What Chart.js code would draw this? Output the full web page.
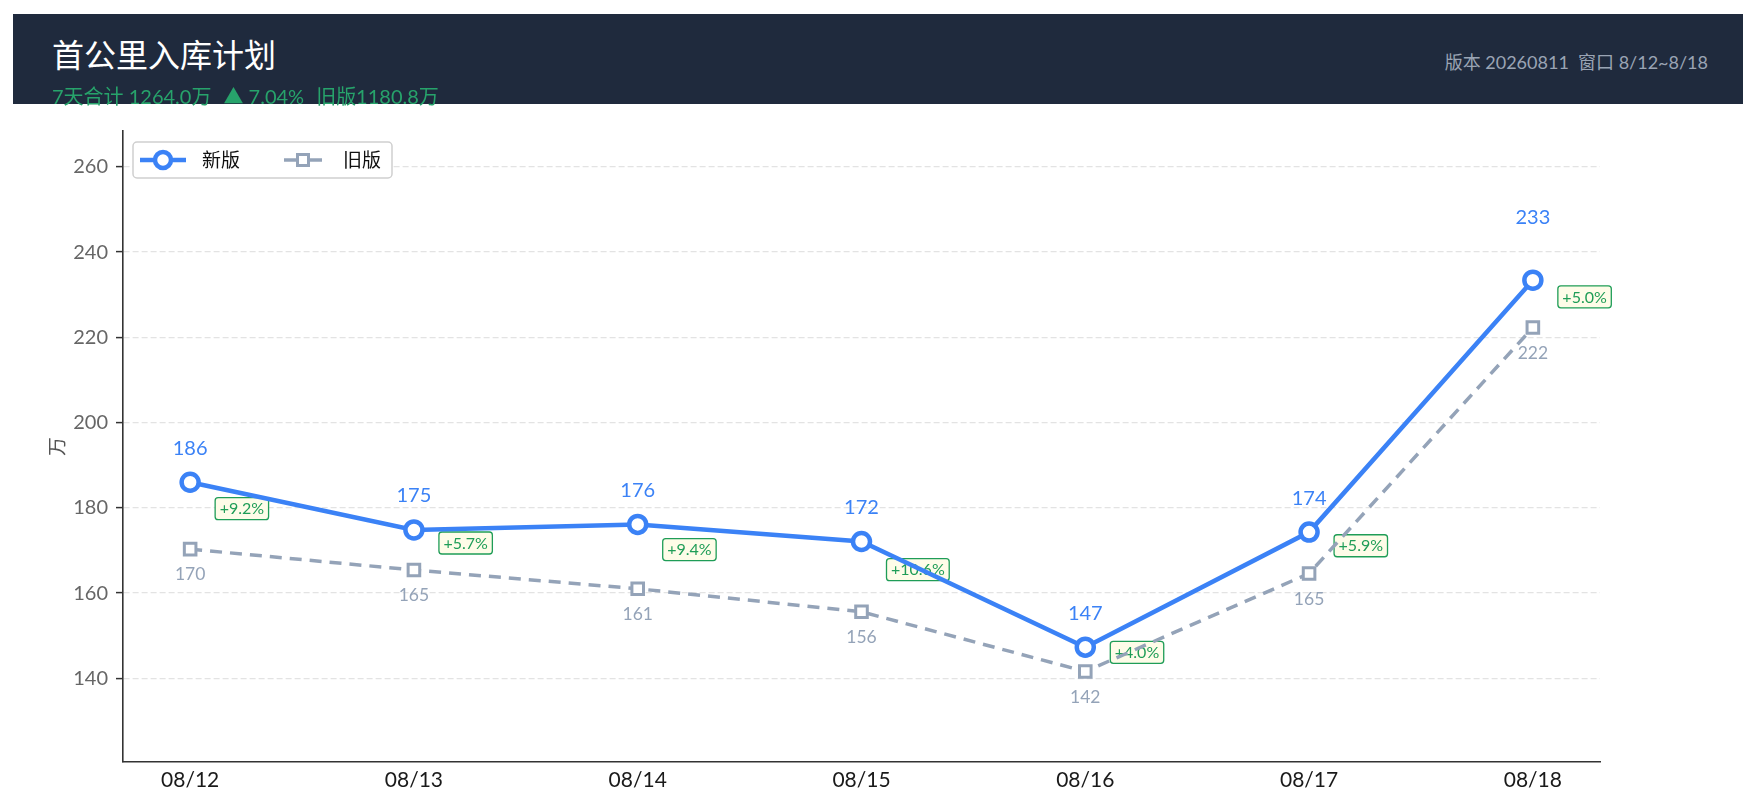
<!DOCTYPE html>
<html>
<head>
<meta charset="utf-8">
<script src="https://cdn.jsdelivr.net/npm/chart.js@4.4.1/dist/chart.umd.min.js"></script>
<style>
html,body{margin:0;padding:0;background:#fff;}
#wrap{position:relative;width:1758px;height:812px;overflow:hidden;background:#fff;}
#chart{position:absolute;left:0;top:0;}
#hdr{position:absolute;left:13px;top:14px;width:1730px;height:90px;background:#1f2a3d;font-family:Lato,"Noto Sans CJK SC",sans-serif;}
#title{position:absolute;left:39px;top:25px;font-size:32px;line-height:32px;color:#ffffff;white-space:nowrap;}
#sub{position:absolute;left:39px;top:72px;font-size:20px;line-height:20px;color:#27a36b;white-space:nowrap;}
#sub span+span{margin-left:12px;}
#meta{position:absolute;right:35px;top:39px;font-size:18px;line-height:18px;color:#9aa4b4;white-space:nowrap;}
</style>
</head>
<body>
<div id="wrap">
  <canvas id="chart" width="1758" height="812"></canvas>
  <div id="hdr">
    <div id="title">首公里入库计划</div>
    <div id="sub"><span>7天合计 1264.0万</span><span>▲ 7.04%</span><span>旧版1180.8万</span></div>
    <div id="meta">版本 20260811&nbsp;&nbsp;窗口 8/12~8/18</div>
  </div>
</div>
<script>
const labels = ['08/12','08/13','08/14','08/15','08/16','08/17','08/18'];
const newValues = [186.0,174.8,176.1,172.1,147.3,174.3,233.4];
const oldValues = [170.3,165.4,161.0,155.6,141.6,164.6,222.3];
const yTicks = [140,160,180,200,220,240,260];
const seriesNames = ['新版','旧版'];

const BLUE = '#3b82f6';
const GRAY = '#94a3b8';
const GREEN = '#1f9d57';
const FONT = 'Lato, "Noto Sans CJK SC", sans-serif';

const allVals = newValues.concat(oldValues);
const yMin = Math.min(...allVals) * 0.85;
const yMax = Math.max(...allVals) * 1.15;
const maxNew = Math.max(...newValues);

function rrect(ctx, x, y, w, h, r) {
  ctx.beginPath();
  ctx.moveTo(x + r, y);
  ctx.lineTo(x + w - r, y);
  ctx.arcTo(x + w, y, x + w, y + r, r);
  ctx.lineTo(x + w, y + h - r);
  ctx.arcTo(x + w, y + h, x + w - r, y + h, r);
  ctx.lineTo(x + r, y + h);
  ctx.arcTo(x, y + h, x, y + h - r, r);
  ctx.lineTo(x, y + r);
  ctx.arcTo(x, y, x + r, y, r);
  ctx.closePath();
}

const badgePlugin = {
  id: 'badges',
  beforeDatasetsDraw(chart) {
    const ctx = chart.ctx;
    const xs = chart.scales.x, ys = chart.scales.y;
    ctx.save();
    ctx.font = '16px ' + FONT;
    ctx.textBaseline = 'middle';
    ctx.textAlign = 'left';
    newValues.forEach((v, i) => {
      const o = oldValues[i];
      const txt = '+' + ((v / o - 1) * 100).toFixed(1) + '%';
      const px = xs.getPixelForValue(i);
      const cy = (ys.getPixelForValue(v) + ys.getPixelForValue(o)) / 2 - 7;
      const tw = ctx.measureText(txt).width;
      const w = tw + 9, h = 22;
      const left = px + 25;
      rrect(ctx, left, cy - h / 2, w, h, 3);
      ctx.fillStyle = '#fefce8';
      ctx.fill();
      ctx.lineWidth = 1.3;
      ctx.strokeStyle = GREEN;
      ctx.stroke();
      ctx.fillStyle = GREEN;
      ctx.fillText(txt, left + 4.5, cy + 0.5);
    });
    ctx.restore();
  }
};

const valuePlugin = {
  id: 'values',
  afterDatasetsDraw(chart) {
    const ctx = chart.ctx;
    const xs = chart.scales.x, ys = chart.scales.y;
    ctx.save();
    ctx.textAlign = 'center';
    ctx.textBaseline = 'middle';
    ctx.font = '20px ' + FONT;
    ctx.fillStyle = BLUE;
    newValues.forEach((v, i) => {
      const off = v === maxNew ? 63 : 34;
      ctx.fillText(v.toFixed(0), xs.getPixelForValue(i), ys.getPixelForValue(v) - off);
    });
    ctx.font = '17.5px ' + FONT;
    ctx.fillStyle = GRAY;
    oldValues.forEach((v, i) => {
      ctx.fillText(v.toFixed(0), xs.getPixelForValue(i), ys.getPixelForValue(v) + 25.5);
    });
    ctx.restore();
  }
};

const legendPlugin = {
  id: 'boxLegend',
  afterDraw(chart) {
    const ctx = chart.ctx;
    const a = chart.chartArea;
    const x0 = a.left + 10, y0 = a.top + 11;
    const w = 259, h = 36, cy = y0 + h / 2;
    ctx.save();
    rrect(ctx, x0, y0, w, h, 4);
    ctx.fillStyle = '#ffffff';
    ctx.fill();
    ctx.lineWidth = 1.5;
    ctx.strokeStyle = '#cfcfcf';
    ctx.stroke();
    // item 1
    ctx.strokeStyle = BLUE;
    ctx.lineWidth = 4.5;
    ctx.beginPath(); ctx.moveTo(x0 + 7, cy); ctx.lineTo(x0 + 53, cy); ctx.stroke();
    ctx.beginPath(); ctx.arc(x0 + 30, cy, 8, 0, Math.PI * 2);
    ctx.fillStyle = '#fff'; ctx.fill(); ctx.stroke();
    ctx.font = '19px ' + FONT;
    ctx.fillStyle = '#111';
    ctx.textBaseline = 'middle';
    ctx.textAlign = 'left';
    ctx.fillText(seriesNames[0], x0 + 69, cy + 1);
    // item 2
    ctx.strokeStyle = GRAY;
    ctx.lineWidth = 3.5;
    ctx.beginPath(); ctx.moveTo(x0 + 151, cy); ctx.lineTo(x0 + 189, cy); ctx.stroke();
    ctx.lineWidth = 3;
    ctx.fillStyle = '#fff';
    ctx.beginPath(); ctx.rect(x0 + 170 - 5.5, cy - 5.5, 11, 11); ctx.fill(); ctx.stroke();
    ctx.fillStyle = '#111';
    ctx.fillText(seriesNames[1], x0 + 210, cy + 1);
    ctx.restore();
  }
};

new Chart(document.getElementById('chart'), {
  type: 'line',
  data: {
    datasets: [
      {
        label: seriesNames[0],
        data: newValues.map((v, i) => ({x: i, y: v})),
        borderColor: BLUE,
        borderWidth: 4.5,
        pointStyle: 'circle',
        pointRadius: 8.5,
        pointHoverRadius: 8.5,
        pointBorderWidth: 4.5,
        pointBackgroundColor: '#ffffff',
        pointBorderColor: BLUE,
        tension: 0,
        fill: false
      },
      {
        label: seriesNames[1],
        data: oldValues.map((v, i) => ({x: i, y: v})),
        borderColor: GRAY,
        borderWidth: 3.5,
        borderDash: [12, 8],
        pointStyle: 'rect',
        pointRadius: 8.2,
        pointHoverRadius: 8.2,
        pointBorderWidth: 3,
        pointBackgroundColor: '#ffffff',
        pointBorderColor: GRAY,
        tension: 0,
        fill: false
      }
    ]
  },
  options: {
    responsive: false,
    animation: false,
    devicePixelRatio: 1,
    layout: {autoPadding: false, padding: {left: 0, top: 131, right: 158, bottom: 0}},
    plugins: {legend: {display: false}, title: {display: false}, tooltip: {enabled: false}},
    scales: {
      x: {
        type: 'linear',
        min: -0.3,
        max: 6.3,
        afterBuildTicks: (s) => { s.ticks = labels.map((_, i) => ({value: i})); },
        afterFit: (s) => { s.height = 50; },
        ticks: {
          callback: (v) => labels[v],
          font: {size: 21, family: FONT},
          color: '#1a1a1a',
          padding: 6,
          maxRotation: 0,
          autoSkip: false
        },
        grid: {display: false, drawTicks: false},
        border: {display: true, color: '#333', width: 1.6}
      },
      y: {
        type: 'linear',
        min: yMin,
        max: yMax,
        afterBuildTicks: (s) => { s.ticks = yTicks.map(v => ({value: v})); },
        afterFit: (s) => { s.width = 123; },
        ticks: {
          font: {size: 20, family: FONT},
          color: '#666',
          padding: 8
        },
        grid: {color: '#e3e3e3', lineWidth: 1.2, tickColor: '#333', tickLength: 7, tickWidth: 1.5, drawTicks: true},
        border: {display: true, color: '#333', width: 1.6, dash: [6, 3]},
        title: {display: true, text: '万', color: '#555', font: {size: 19, family: FONT}, padding: {top: 46, bottom: 0}}
      }
    }
  },
  plugins: [badgePlugin, valuePlugin, legendPlugin]
});
</script>
</body>
</html>
